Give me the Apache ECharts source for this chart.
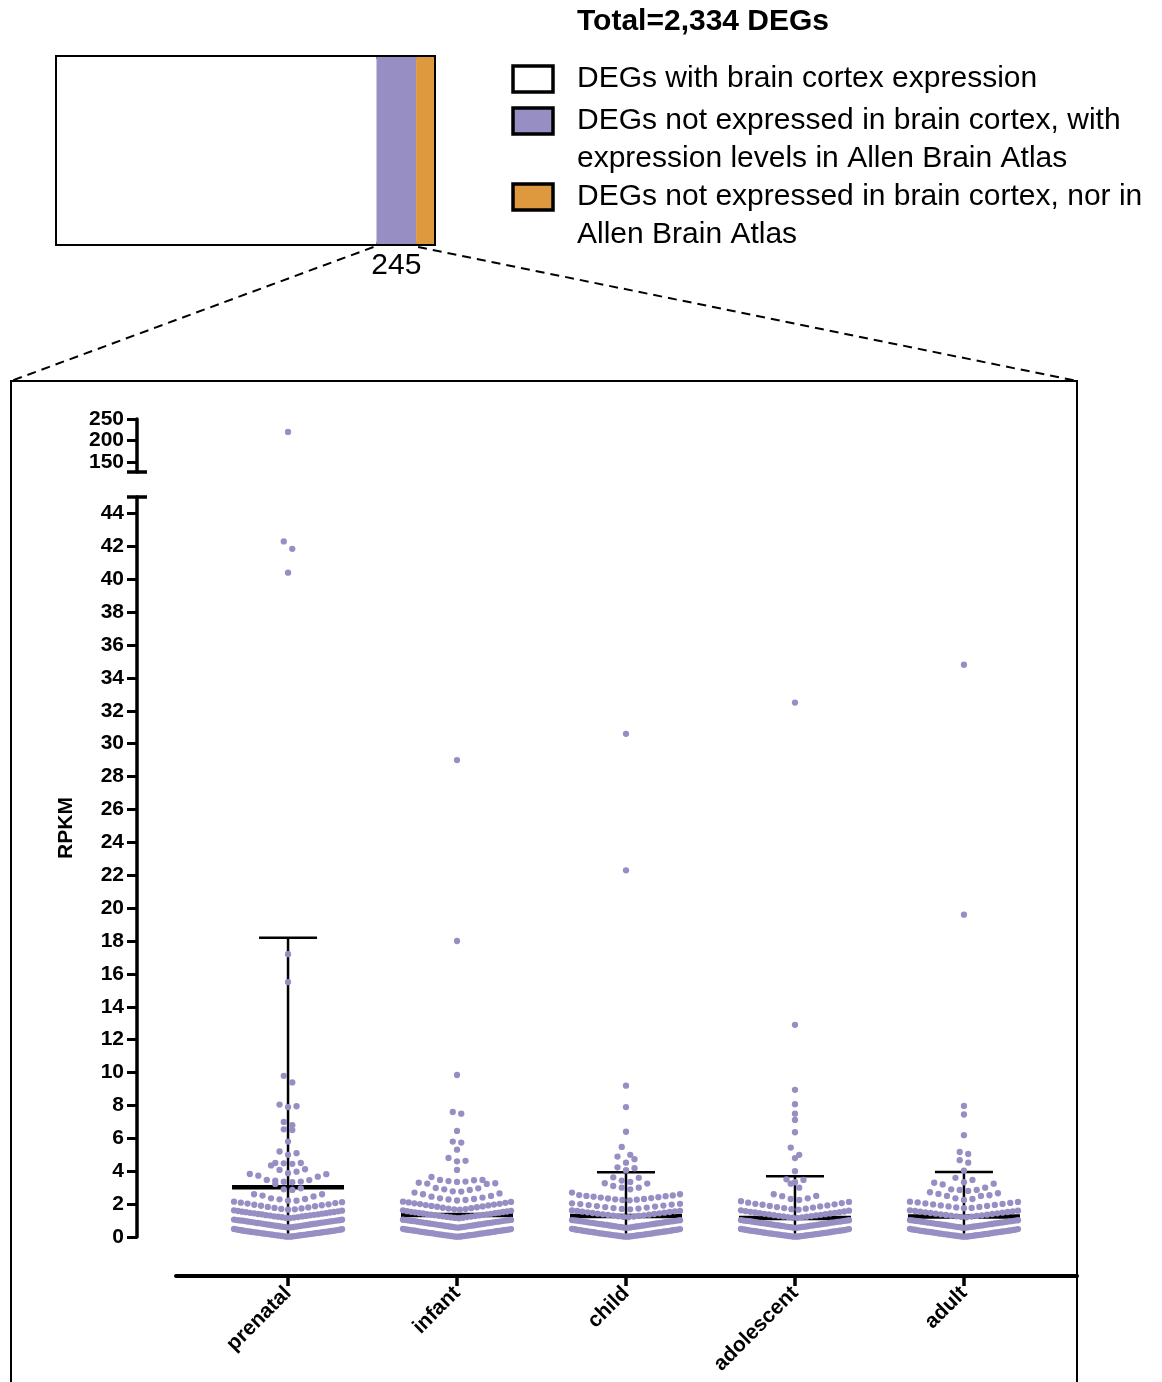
<!DOCTYPE html>
<html><head><meta charset="utf-8">
<script src="https://cdn.jsdelivr.net/npm/echarts@6/dist/echarts.min.js"></script>
<style>html,body{margin:0;padding:0;background:#fff}#c{width:1162px;height:1382px}</style>
</head><body><div id="c"></div>
<script>
const FONT = '"Liberation Sans", Arial, Helvetica, sans-serif';

// ---------- data ----------
const categories = ['prenatal', 'infant', 'child', 'adolescent', 'adult'];
const barNames = ['DEGs with brain cortex expression',
  'DEGs not expressed in brain cortex, with\nexpression levels in Allen Brain Atlas',
  'DEGs not expressed in brain cortex, nor in\nAllen Brain Atlas'];
const barValues = [1978, 245, 111];
const barTotal = 2334;
const titleText = 'Total=2,334 DEGs';
const lowerTicks = [0,2,4,6,8,10,12,14,16,18,20,22,24,26,28,30,32,34,36,38,40,42,44];
const upperTicks = [150, 200, 250];

const prenatal = [220,
  42.3, 41.85, 40.4, 17.2, 15.5, 9.8, 9.4, 8.05, 7.95, 7.9, 7.0, 6.8, 6.55, 6.5, 5.8, 5.2, 5.1, 5.0,
  4.5, 4.5, 4.48, 4.45, 4.35, 4.12, 4.08, 3.97, 3.88, 3.83, 3.82, 3.73, 3.67, 3.47, 3.46, 3.43, 3.37, 3.36, 3.33, 3.23, 2.96, 2.9, 2.86,
  2.6, 2.6, 2.52, 2.47, 2.35, 2.31, 2.29, 2.21, 2.21,
  1.66, 1.68, 1.71, 1.74, 1.77, 1.8, 1.83, 1.87, 1.9, 1.93, 1.96, 1.99, 2.03, 2.06, 2.09, 2.12, 2.15,
  1.15, 1.16, 1.18, 1.2, 1.21, 1.23, 1.25, 1.26, 1.28, 1.3, 1.32, 1.33, 1.35, 1.37, 1.38, 1.4, 1.42, 1.44, 1.45, 1.47, 1.49, 1.51, 1.52, 1.54, 1.56, 1.58, 1.6, 1.62,
  0.58, 0.59, 0.6, 0.62, 0.63, 0.64, 0.65, 0.67, 0.68, 0.69, 0.71, 0.72, 0.73, 0.75, 0.76, 0.77, 0.79, 0.8, 0.81, 0.83, 0.84, 0.85, 0.87, 0.88, 0.89, 0.91, 0.92, 0.93, 0.95, 0.96, 0.97, 0.99, 1.0, 1.01, 1.02, 1.03, 1.05, 1.06,
  0.02, 0.02, 0.03, 0.04, 0.05, 0.06, 0.07, 0.08, 0.09, 0.1, 0.11, 0.12, 0.13, 0.14, 0.15, 0.16, 0.17, 0.18, 0.19, 0.2, 0.21, 0.22, 0.23, 0.24, 0.25, 0.26, 0.27, 0.28, 0.29, 0.3, 0.31, 0.32, 0.33, 0.34, 0.35, 0.36, 0.37, 0.38, 0.39, 0.41, 0.42, 0.43, 0.44, 0.46, 0.47, 0.49];

const infant = [29.0, 18.0, 9.85, 7.6, 7.5, 6.45, 5.8, 5.74, 5.31, 4.81, 4.63, 4.6, 4.08,
  3.65, 3.47, 3.47, 3.45, 3.4, 3.37, 3.35, 3.3, 3.27, 3.25, 3.23, 2.98, 2.96, 2.9, 2.86,
  2.78, 2.76, 2.7, 2.65, 2.6, 2.5, 2.45, 2.4, 2.35, 2.31, 2.28, 2.25, 2.22,
  1.66, 1.68, 1.7, 1.73, 1.75, 1.78, 1.81, 1.84, 1.86, 1.89, 1.92, 1.94, 1.97, 2.0, 2.02, 2.05, 2.08, 2.1, 2.13, 2.15,
  1.14, 1.16, 1.17, 1.19, 1.21, 1.22, 1.24, 1.26, 1.27, 1.29, 1.31, 1.33, 1.34, 1.36, 1.38, 1.39, 1.41, 1.43, 1.45, 1.46, 1.48, 1.5, 1.52, 1.53, 1.55, 1.57, 1.59, 1.62,
  0.57, 0.58, 0.6, 0.61, 0.62, 0.64, 0.65, 0.66, 0.68, 0.69, 0.7, 0.72, 0.73, 0.74, 0.76, 0.77, 0.78, 0.8, 0.81, 0.82, 0.84, 0.85, 0.86, 0.88, 0.89, 0.9, 0.92, 0.93, 0.94, 0.96, 0.97, 0.98, 1.0, 1.01, 1.02, 1.03, 1.04, 1.05,
  0.02, 0.02, 0.03, 0.04, 0.05, 0.06, 0.07, 0.08, 0.09, 0.1, 0.11, 0.12, 0.13, 0.14, 0.15, 0.16, 0.17, 0.18, 0.2, 0.21, 0.22, 0.23, 0.24, 0.25, 0.26, 0.27, 0.28, 0.29, 0.3, 0.31, 0.32, 0.33, 0.35, 0.36, 0.37, 0.38, 0.39, 0.4, 0.41, 0.42, 0.43, 0.44, 0.45, 0.46, 0.48, 0.5];

const child = [30.6, 22.3, 9.2, 7.9, 6.4, 5.48, 5.0, 4.89, 4.73, 4.52, 4.24, 4.18, 4.06, 3.63, 3.6, 3.43, 3.35, 3.27, 3.25, 3.1, 3.0, 3.0, 2.9, 2.7, 2.6,
  2.55, 2.53, 2.5, 2.48, 2.45, 2.42, 2.4, 2.37, 2.34, 2.31, 2.29, 2.27, 2.25, 2.23,
  1.68, 1.71, 1.73, 1.76, 1.79, 1.82, 1.85, 1.88, 1.91, 1.94, 1.97, 2.0, 2.02, 2.05,
  1.2, 1.22, 1.24, 1.26, 1.28, 1.3, 1.32, 1.34, 1.36, 1.38, 1.4, 1.42, 1.44, 1.46, 1.48, 1.5, 1.52, 1.54, 1.56, 1.58, 1.59, 1.61,
  0.56, 0.57, 0.58, 0.6, 0.61, 0.62, 0.64, 0.65, 0.66, 0.67, 0.69, 0.7, 0.71, 0.73, 0.74, 0.75, 0.77, 0.78, 0.79, 0.8, 0.82, 0.83, 0.84, 0.86, 0.87, 0.88, 0.9, 0.91, 0.92, 0.94, 0.95, 0.96, 0.97, 0.99, 1.0, 1.01, 1.02, 1.03,
  0.02, 0.02, 0.03, 0.04, 0.05, 0.06, 0.07, 0.08, 0.09, 0.1, 0.11, 0.12, 0.13, 0.14, 0.15, 0.16, 0.17, 0.18, 0.19, 0.2, 0.21, 0.22, 0.23, 0.24, 0.26, 0.27, 0.28, 0.29, 0.3, 0.31, 0.32, 0.33, 0.34, 0.35, 0.36, 0.37, 0.38, 0.4, 0.41, 0.42, 0.43, 0.44, 0.45, 0.47, 0.48, 0.5];

const adolescent = [32.5, 12.9, 8.95, 8.08, 7.5, 7.12, 6.37, 5.44, 5.0, 4.8, 4.0, 3.51, 3.47, 3.33, 3.24, 3.0, 2.6, 2.5, 2.48, 2.35, 2.31, 2.25,
  1.66, 1.69, 1.72, 1.76, 1.79, 1.82, 1.86, 1.89, 1.92, 1.96, 1.99, 2.02, 2.06, 2.09, 2.13, 2.18,
  1.15, 1.17, 1.19, 1.21, 1.23, 1.25, 1.27, 1.29, 1.31, 1.33, 1.35, 1.37, 1.39, 1.41, 1.43, 1.45, 1.47, 1.49, 1.51, 1.53, 1.55, 1.57, 1.6, 1.62,
  0.56, 0.57, 0.58, 0.6, 0.61, 0.62, 0.63, 0.65, 0.66, 0.67, 0.69, 0.7, 0.71, 0.72, 0.74, 0.75, 0.76, 0.78, 0.79, 0.8, 0.81, 0.83, 0.84, 0.85, 0.87, 0.88, 0.89, 0.9, 0.92, 0.93, 0.94, 0.96, 0.97, 0.98, 0.99, 1.0, 1.02, 1.03,
  0.02, 0.02, 0.03, 0.04, 0.05, 0.06, 0.07, 0.08, 0.09, 0.1, 0.11, 0.12, 0.13, 0.14, 0.15, 0.16, 0.17, 0.18, 0.19, 0.2, 0.21, 0.22, 0.23, 0.24, 0.25, 0.26, 0.27, 0.28, 0.29, 0.31, 0.32, 0.33, 0.34, 0.35, 0.36, 0.37, 0.38, 0.39, 0.4, 0.41, 0.42, 0.44, 0.45, 0.46, 0.48, 0.49];

const adult = [34.8, 19.6, 7.97, 7.45, 6.19, 5.17, 5.05, 4.67, 4.52, 4.04, 3.6, 3.47, 3.33, 3.3, 3.24, 3.2, 3.0, 2.9, 2.86, 2.86, 2.8, 2.72, 2.66, 2.62, 2.54, 2.5, 2.5, 2.35, 2.31, 2.25,
  1.75, 1.77, 1.8, 1.83, 1.86, 1.89, 1.92, 1.95, 1.98, 2.01, 2.04, 2.07, 2.1, 2.13, 2.15,
  1.2, 1.22, 1.24, 1.26, 1.28, 1.3, 1.32, 1.34, 1.36, 1.38, 1.4, 1.42, 1.44, 1.46, 1.48, 1.5, 1.52, 1.54, 1.56, 1.58, 1.6, 1.62,
  0.56, 0.57, 0.59, 0.6, 0.61, 0.62, 0.64, 0.65, 0.66, 0.68, 0.69, 0.7, 0.71, 0.73, 0.74, 0.75, 0.77, 0.78, 0.79, 0.8, 0.82, 0.83, 0.84, 0.86, 0.87, 0.88, 0.89, 0.91, 0.92, 0.93, 0.95, 0.96, 0.97, 0.98, 1.0, 1.01, 1.02, 1.03,
  0.02, 0.02, 0.03, 0.04, 0.05, 0.06, 0.07, 0.08, 0.09, 0.1, 0.11, 0.12, 0.13, 0.14, 0.15, 0.16, 0.17, 0.18, 0.19, 0.2, 0.21, 0.22, 0.23, 0.25, 0.26, 0.27, 0.28, 0.29, 0.3, 0.31, 0.32, 0.33, 0.34, 0.35, 0.36, 0.37, 0.38, 0.39, 0.4, 0.42, 0.43, 0.44, 0.45, 0.46, 0.48, 0.5];

const groupValues = [prenatal, infant, child, adolescent, adult];
const means = [3.02, 1.34, 1.28, 1.15, 1.24];
const sdUpper = [18.2, 1.34, 3.94, 3.7, 3.96];
const sdLower = [0.2, 1.34, 0.2, 0.2, 0.2];

// ---------- styles / layout ----------
const barColors = ['#ffffff', '#978fc4', '#de983e'];
const dotColor = '#978fc4';
const X_MIN = -0.663, X_MAX = 4.669;
const GL = 176, GR = 85;
const pxPerUnit = (1162 - GL - GR) / (X_MAX - X_MIN);
const BIN = 0.55, STEP_PX = 8.5, MAXW_PX = 108;

function swarm(vals, ci) {
  const rows = new Map();
  vals.forEach(v => {
    const key = v > 100 ? 'u' + Math.floor(v / 20) : Math.floor(v / BIN);
    if (!rows.has(key)) rows.set(key, []);
    rows.get(key).push(v);
  });
  const out = [];
  rows.forEach(arr => {
    arr.sort((a, b) => a - b);
    const n = arr.length;
    const step = n > 1 ? Math.min(STEP_PX, MAXW_PX / (n - 1)) : 0;
    arr.forEach((v, k) => {
      let slot;
      if (n % 2 === 1) slot = k === 0 ? 0 : (k % 2 === 1 ? (k + 1) / 2 : -k / 2);
      else slot = (k % 2 === 0 ? 1 : -1) * (Math.floor(k / 2) + 0.5);
      out.push([ci + slot * step / pxPerUnit, v]);
    });
  });
  return out;
}
const allPts = [];
groupValues.forEach((g, i) => swarm(g, i).forEach(p => allPts.push(p)));
const lowerPts = allPts.filter(p => p[1] <= 100);
const upperPts = allPts.filter(p => p[1] > 100);

const chart = echarts.init(document.getElementById('c'), null, { renderer: 'canvas' });
const axisLbl = { color: '#000', fontFamily: FONT, fontWeight: 'bold', fontSize: 21 };

const legendGraphics = [];
const legendY = [66, 108, 184];
barNames.forEach((nm, i) => {
  legendGraphics.push({ type: 'rect', shape: { x: 513, y: legendY[i], width: 40, height: 26 },
    style: { fill: barColors[i], stroke: '#000', lineWidth: 3.5 } });
  legendGraphics.push({ type: 'text', x: 577, y: legendY[i] + 13 - 19,
    style: { text: nm, font: '30px ' + FONT, fill: '#000', lineHeight: 38, textVerticalAlign: 'top' } });
});

const option = {
  animation: false,
  backgroundColor: '#fff',
  grid: [
    { left: GL, right: GR, top: 497, bottom: 1382 - 1237 },
    { left: GL, right: GR, top: 419, height: 53 },
    { left: 57, top: 57, width: 377, height: 187 }
  ],
  xAxis: [
    { gridIndex: 0, type: 'value', min: X_MIN, max: X_MAX, position: 'bottom', offset: 39,
      splitLine: { show: false },
      axisLine: { show: true, onZero: false, lineStyle: { color: '#000', width: 4 } },
      axisTick: { show: true, length: 10, lineStyle: { color: '#000', width: 3.5 }, customValues: [0, 1, 2, 3, 4] },
      axisLabel: Object.assign({ customValues: [0, 1, 2, 3, 4], rotate: 45, margin: 14,
        formatter: v => categories[Math.round(v)] }, axisLbl) },
    { gridIndex: 1, type: 'value', min: X_MIN, max: X_MAX, show: false },
    { gridIndex: 2, type: 'value', min: 0, max: barTotal, show: false }
  ],
  yAxis: [
    { gridIndex: 0, type: 'value', min: 0, max: 45, position: 'left', offset: 39,
      splitLine: { show: false },
      axisLine: { show: true, onZero: false, lineStyle: { color: '#000', width: 3.5 } },
      axisTick: { show: true, length: 10, lineStyle: { color: '#000', width: 3 }, customValues: lowerTicks },
      axisLabel: Object.assign({ customValues: lowerTicks, margin: 13 }, axisLbl) },
    { gridIndex: 1, type: 'value', min: 126.7, max: 250, position: 'left', offset: 39,
      splitLine: { show: false },
      axisLine: { show: true, onZero: false, lineStyle: { color: '#000', width: 3.5 } },
      axisTick: { show: true, length: 10, lineStyle: { color: '#000', width: 3 }, customValues: upperTicks },
      axisLabel: Object.assign({ customValues: upperTicks, margin: 13 }, axisLbl) },
    { gridIndex: 2, type: 'category', data: ['DEGs'], show: false }
  ],
  series: [
    { type: 'custom', xAxisIndex: 0, yAxisIndex: 0, z: 2,
      data: categories.map((c, i) => [i, means[i], sdUpper[i], sdLower[i]]),
      renderItem: (params, api) => {
        const i = api.value(0);
        const pm = api.coord([i, api.value(1)]);
        const pu = api.coord([i, api.value(2)]);
        const pl = api.coord([i, api.value(3)]);
        const ch = [];
        if (Math.abs(pu[1] - pl[1]) > 1) {
          ch.push({ type: 'line', shape: { x1: pm[0], y1: pl[1], x2: pm[0], y2: pu[1] }, style: { stroke: '#000', lineWidth: 2.5 } });
          ch.push({ type: 'line', shape: { x1: pu[0] - 29, y1: pu[1], x2: pu[0] + 29, y2: pu[1] }, style: { stroke: '#000', lineWidth: 2.5 } });
        }
        ch.push({ type: 'line', shape: { x1: pm[0] - 56, y1: pm[1], x2: pm[0] + 56, y2: pm[1] }, style: { stroke: '#000', lineWidth: 4.5 } });
        return { type: 'group', children: ch };
      } },
    { type: 'scatter', xAxisIndex: 0, yAxisIndex: 0, z: 3, symbolSize: 6.3,
      itemStyle: { color: dotColor, opacity: 1 }, data: lowerPts },
    { type: 'scatter', xAxisIndex: 1, yAxisIndex: 1, z: 3, symbolSize: 6.3,
      itemStyle: { color: dotColor, opacity: 1 }, data: upperPts },
    ...barValues.map((v, i) => ({
      type: 'bar', name: barNames[i], xAxisIndex: 2, yAxisIndex: 2, stack: 'deg', barWidth: '100%',
      itemStyle: { color: barColors[i] }, data: [v],
      label: i === 1 ? { show: true, position: 'bottom', distance: 7, formatter: '{c}',
        color: '#000', fontFamily: FONT, fontSize: 30 } : { show: false }
    }))
  ],
  graphic: [
    { type: 'text', x: 577, y: 22, style: { text: titleText, font: 'bold 30px ' + FONT, fill: '#000', textVerticalAlign: 'middle' } },
    ...legendGraphics,
    { type: 'rect', shape: { x: 57, y: 57, width: 377, height: 187 }, style: { fill: 'none', stroke: '#000', lineWidth: 4 } },
    { type: 'text', x: 66, y: 828, rotation: Math.PI / 2,
      style: { text: 'RPKM', font: 'bold 21px ' + FONT, fill: '#000', textAlign: 'center', textVerticalAlign: 'middle' } },
    { type: 'line', shape: { x1: 127, y1: 472, x2: 147, y2: 472 }, style: { stroke: '#000', lineWidth: 3.5 } },
    { type: 'line', shape: { x1: 127, y1: 497, x2: 147, y2: 497 }, style: { stroke: '#000', lineWidth: 3.5 } },
    { type: 'polyline', shape: { points: [[11, 1382], [11, 381], [1077, 381], [1077, 1382]] }, style: { fill: 'none', stroke: '#000', lineWidth: 2 } }
  ]
};
chart.setOption(option);

const xs = chart.convertToPixel({ xAxisIndex: 2 }, barValues[0]);
const xe = chart.convertToPixel({ xAxisIndex: 2 }, barValues[0] + barValues[1]);
option.graphic.push(
  { type: 'line', shape: { x1: xs - 3, y1: 247, x2: 11, y2: 381 }, style: { stroke: '#000', lineWidth: 2, lineDash: [9, 6] } },
  { type: 'line', shape: { x1: xe + 2, y1: 247, x2: 1077, y2: 381 }, style: { stroke: '#000', lineWidth: 2, lineDash: [9, 6] } }
);
chart.setOption({ graphic: option.graphic });
</script></body></html>
